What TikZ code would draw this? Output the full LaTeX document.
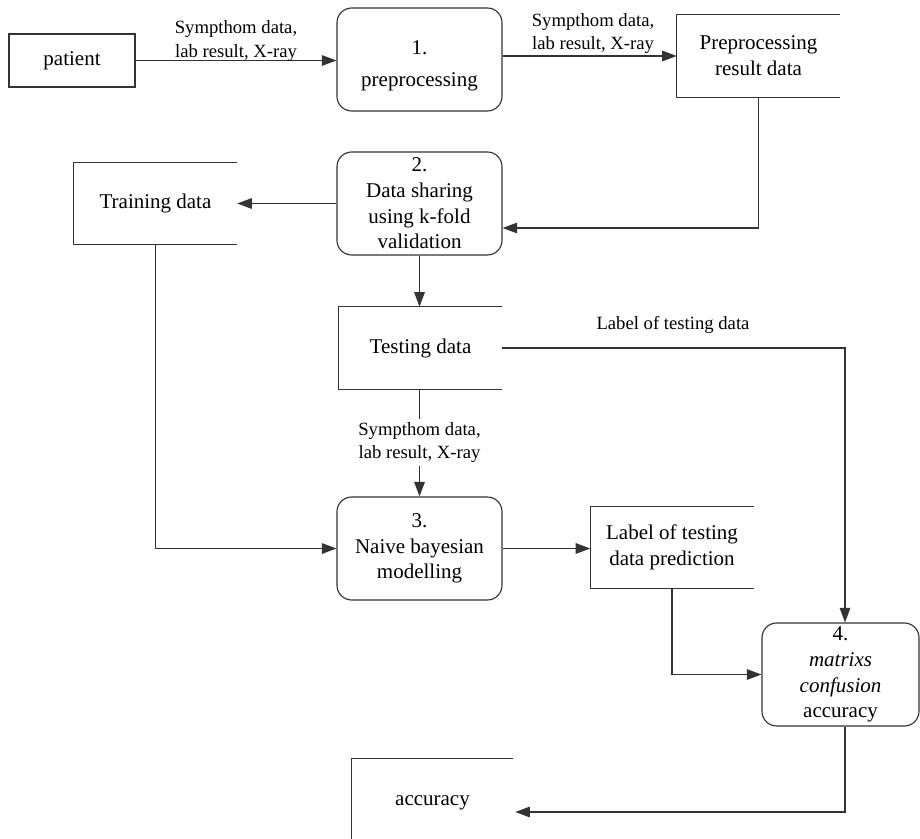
\documentclass[tikz,border=0pt]{standalone}
\usepackage{fontspec}
\setmainfont{LiberationSerif}[Extension=.ttf, UprightFont=*-Regular, ItalicFont=*-Italic, BoldFont=*-Bold, BoldItalicFont=*-BoldItalic]
\usetikzlibrary{arrows.meta,calc}
\begin{document}
\begin{tikzpicture}[x=0.75pt,y=-0.75pt,
  line/.style={draw=black!80, line width=0.85pt},
  arr/.style={line, -{Triangle[length=11pt,width=8pt]}},
  ntext/.style={font=\fontsize{15.75}{19.3}\selectfont, align=center, text=black},
  lbl/.style={font=\fontsize{14}{17.5}\selectfont, align=center, inner sep=0pt, text=black},
  extbox/.style={line, minimum width=94.5pt, minimum height=39.75pt, inner sep=0pt},
  proc/.style={line, rounded corners=11pt, minimum width=123.75pt, minimum height=77.25pt, inner sep=0pt},
  store/.style={minimum width=122.25pt, minimum height=61.5pt, inner sep=0pt}
]
\useasboundingbox (0,0) rectangle (920,838);

% external entity
\node[extbox,ntext] (patient) at (72,60.5) {patient};

% processes
\node[proc] (p1) at (419.5,59.5) {};
\node[ntext] (p1text) at (419.5,66) {1.\\[4.5pt]preprocessing};
\node[proc,ntext] (p2) at (419.5,203.5) {2.\\Data sharing\\using k-fold\\validation};
\node[proc,ntext] (p3) at (419.5,548.5) {3.\\Naive bayesian\\modelling};
\node[proc,ntext,minimum width=117.75pt] (p4) at (840.5,674.5) {4.\\\textit{matrixs}\\\textit{confusion}\\accuracy};

% data stores
\node[store,ntext] (prd) at (758.5,56) {Preprocessing\\result data};
\node[store,ntext] (train) at (155.5,203.5) {Training data};
\node[store,ntext] (test) at (420.5,348) {Testing data};
\node[store,ntext] (pred) at (672,547.5) {Label of testing\\data prediction};
\node[store,ntext,minimum height=66pt,minimum width=120.75pt] (acc) at (432.5,803) {accuracy};
\foreach \n in {prd,train,test,pred,acc}
  \draw[line] (\n.north east) -- (\n.north west) -- (\n.south west) -- (\n.south east);

% flows
\draw[arr] (patient.east) -- (patient.east -| p1.west);
\node[lbl] (l1) at (236,41) {Sympthom data,\\lab result, X-ray};

\draw[arr] (prd.west -| p1.east) -- (prd.west);
\node[lbl] (l2) at (593,33.5) {Sympthom data,\\lab result, X-ray};

\coordinate (c3) at ($(p2.east)+(0,24.5)$);
\draw[arr] (prd.south) |- (c3);

\draw[arr] (p2.west) -- (p2.west -| train.east);
\draw[arr] (p2.south) -- (p2.south |- test.north);
\draw[arr] (train.south) |- (p3.west);

\draw[arr] (p3.north |- test.south) -- node[lbl, fill=white, inner ysep=2.5pt, midway] (l3) {Sympthom data,\\lab result, X-ray} (p3.north);

\coordinate (c4) at ($(p4.north)+(4.5,0)$);
\draw[arr] (test.east) -| (c4);
\node[lbl] (l4) at (673,325) {Label of testing data};

\draw[arr] (p3.east) -- (p3.east -| pred.west);
\draw[arr] (pred.south) |- (p4.west);

\coordinate (c5) at ($(p4.south)+(4.5,0)$);
\coordinate (c6) at ($(acc.east)+(2,9)$);
\draw[arr] (c5) |- (c6);
\end{tikzpicture}
\end{document}
